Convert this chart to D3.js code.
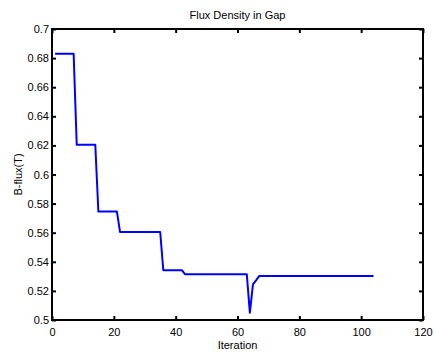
<!DOCTYPE html>
<html>
<head>
<meta charset="utf-8">
<script src="https://cdn.jsdelivr.net/npm/d3@7"></script>
<style>
  html, body { margin: 0; padding: 0; background: #fff; }
  text { font-family: "Liberation Sans", Arial, sans-serif; fill: #000; }
</style>
</head>
<body>
<svg id="chart" width="434" height="354"></svg>
<script>
const title = "Flux Density in Gap";
const xLabel = "Iteration";
const yLabel = "B-flux(T)";
const iterations = [1, 7, 8, 14, 15, 21, 22, 35, 36, 42, 43, 63, 64, 65, 66, 67, 104];
const bflux = [0.683, 0.683, 0.6205, 0.6205, 0.5745, 0.5745, 0.5605, 0.5605, 0.5342, 0.5342, 0.5315, 0.5315, 0.505, 0.5245, 0.5272, 0.5302, 0.5302];
const xTicks = [0, 20, 40, 60, 80, 100, 120];
const yTicks = [0.5, 0.52, 0.54, 0.56, 0.58, 0.6, 0.62, 0.64, 0.66, 0.68, 0.7];
const yTickLabels = ["0.5", "0.52", "0.54", "0.56", "0.58", "0.6", "0.62", "0.64", "0.66", "0.68", "0.7"];

(function () {
const svg = d3.select("#chart");
const L = 52, R = 423, T = 29, B = 320;
const x = d3.scaleLinear().domain([0, 120]).range([L, R]);
const y = d3.scaleLinear().domain([0.5, 0.7]).range([B, T]);
const tl = 4;

// line
const line = d3.line().x((d, i) => x(iterations[i])).y(d => y(d));
svg.append("path").datum(bflux)
  .attr("d", line)
  .attr("fill", "none")
  .attr("stroke", "#0000ff")
  .attr("stroke-width", 2)
  .attr("stroke-linejoin", "round");

// box
svg.append("rect").attr("x", L).attr("y", T).attr("width", R - L).attr("height", B - T)
  .attr("fill", "none").attr("stroke", "#000").attr("stroke-width", 2);

// axes
const fmtY = d => yTickLabels[yTicks.indexOf(d)];
const gBottom = svg.append("g").attr("transform", `translate(0,${B})`)
  .call(d3.axisBottom(x).tickValues(xTicks).tickSizeInner(-tl).tickSizeOuter(0).tickPadding(8));
const gTop = svg.append("g").attr("transform", `translate(0,${T})`)
  .call(d3.axisTop(x).tickValues(xTicks).tickSizeInner(-tl).tickSizeOuter(0).tickFormat(""));
const gLeft = svg.append("g").attr("transform", `translate(${L},0)`)
  .call(d3.axisLeft(y).tickValues(yTicks).tickSizeInner(-tl).tickSizeOuter(0).tickPadding(3).tickFormat(fmtY));
const gRight = svg.append("g").attr("transform", `translate(${R},0)`)
  .call(d3.axisRight(y).tickValues(yTicks).tickSizeInner(-tl).tickSizeOuter(0).tickFormat(""));

[gBottom, gTop, gLeft, gRight].forEach(g => {
  g.select(".domain").remove();
  g.selectAll(".tick line").attr("stroke", "#000").attr("stroke-width", 2);
  g.selectAll("text").attr("font-size", 11).attr("font-family", "Liberation Sans, Arial, sans-serif").attr("fill", "#000");
});

// title & labels
svg.append("text").attr("x", (L + R) / 2).attr("y", 19).attr("text-anchor", "middle")
  .attr("font-size", 11).text(title);
svg.append("text").attr("x", (L + R) / 2).attr("y", 349).attr("text-anchor", "middle")
  .attr("font-size", 11).text(xLabel);
svg.append("text").attr("transform", `translate(22,${(T + B) / 2}) rotate(-90)`).attr("text-anchor", "middle")
  .attr("font-size", 11).text(yLabel);
})();
</script>
</body>
</html>
